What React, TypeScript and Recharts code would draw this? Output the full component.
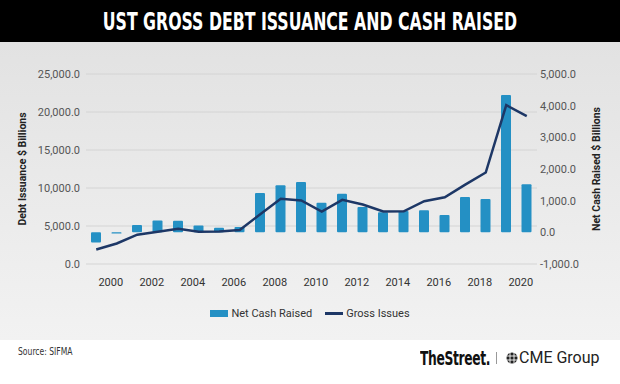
import {
  Bar,
  CartesianGrid,
  ComposedChart,
  Label,
  Legend,
  Line,
  XAxis,
  YAxis,
} from 'recharts';

const years = [
  1999, 2000, 2001, 2002, 2003, 2004, 2005, 2006, 2007, 2008, 2009, 2010, 2011,
  2012, 2013, 2014, 2015, 2016, 2017, 2018, 2019, 2020,
];

// Net cash raised, $ billions (right axis)
const netCashRaised = [
  -320, -40, 235, 375, 365, 215, 145, 170, 1245, 1485, 1590, 936, 1222, 797,
  638, 670, 700, 550, 1114, 1055, 4340, 1517,
];

// Gross issues, $ billions (left axis)
const grossIssues = [
  1910, 2700, 3860, 4250, 4630, 4230, 4276, 4470, 6550, 8580, 8355, 6908, 8447,
  7829, 6908, 6930, 8268, 8790, 10450, 12040, 20900, 19450,
];

const leftTicks = [0, 5000, 10000, 15000, 20000, 25000];
const rightTicks = [-1000, 0, 1000, 2000, 3000, 4000, 5000];

const BAR_COLOR = '#2490c4';
const LINE_COLOR = '#1d3766';
const FONT = 'Roboto, "Noto Sans", sans-serif';
const NARROW = '"DejaVu Sans Condensed", "Liberation Sans", sans-serif';

const data = years.map((year, i) => ({
  year,
  net: netCashRaised[i],
  gross: grossIssues[i],
}));

const fmt = (v: number) =>
  v.toLocaleString('en-US', { minimumFractionDigits: 1, maximumFractionDigits: 1 });

function AxisTitle({ viewBox, text, dx }: { viewBox?: any; text: string; dx: number }) {
  if (!viewBox) return null;
  const cx = viewBox.x + dx;
  const cy = viewBox.y + viewBox.height / 2;
  return (
    <text
      transform={`translate(${cx},${cy}) rotate(-90)`}
      textAnchor="middle"
      dominantBaseline="central"
      fontSize={10.5}
      fontWeight={700}
      fill="#222"
      fontFamily={FONT}
    >
      {text}
    </text>
  );
}

function LegendContent({ payload }: { payload?: any[] }) {
  // bars first, then the line, as in the original legend
  const items = [...(payload ?? [])].sort(
    (a, b) => (a.type === 'line' ? 1 : 0) - (b.type === 'line' ? 1 : 0),
  );
  return (
    <div
      style={{
        display: 'flex',
        justifyContent: 'center',
        alignItems: 'center',
        gap: 13,
        height: 20,
        fontSize: 11,
        color: '#333',
        fontFamily: FONT,
      }}
    >
      {items.map((entry) => (
        <span key={entry.value} style={{ display: 'flex', alignItems: 'center' }}>
          <span
            style={{
              display: 'inline-block',
              width: 18,
              height: entry.type === 'line' ? 3 : 7,
              background: entry.color,
              marginRight: 3,
            }}
          />
          {entry.value}
        </span>
      ))}
    </div>
  );
}

export default function App() {
  return (
    <div
      style={{
        position: 'absolute',
        left: 0,
        top: 0,
        width: 620,
        height: 384,
        background: '#fff',
        overflow: 'hidden',
      }}
    >
      <div
        style={{
          height: 42,
          background: '#000',
          color: '#fff',
          display: 'flex',
          alignItems: 'center',
          justifyContent: 'center',
          fontFamily: NARROW,
          fontWeight: 700,
          fontSize: 25,
          whiteSpace: 'nowrap',
        }}
      >
        <span style={{ display: 'inline-block', transform: 'scaleX(0.7)' }}>
          UST GROSS DEBT ISSUANCE AND CASH RAISED
        </span>
      </div>

      <div style={{ height: 298, background: 'linear-gradient(#e2e2e2, #f2f2f2)' }}>
        <ComposedChart
          width={620}
          height={298}
          data={data}
          margin={{ top: 32, right: 0, bottom: 17, left: 0 }}
          barSize={10}
        >
          <CartesianGrid yAxisId="left" vertical={false} stroke="#d4d4d4" />
          <XAxis
            dataKey="year"
            interval={0}
            height={39}
            axisLine={false}
            tickLine={false}
            tickSize={0}
            tickMargin={14}
            tick={{ fontSize: 11, fill: '#333', fontFamily: FONT, dx: -6 }}
            tickFormatter={(y: number) => (y % 2 === 0 ? String(y) : '')}
          />
          <YAxis
            yAxisId="left"
            orientation="left"
            width={86}
            domain={[0, 25000]}
            ticks={leftTicks}
            axisLine={false}
            tickLine={false}
            tickSize={0}
            tickMargin={6}
            tickFormatter={fmt}
            tick={{ fontSize: 11, fill: '#555', fontFamily: FONT }}
          >
            <Label content={(p: any) => <AxisTitle {...p} text="Debt Issuance $ Billions" dx={22} />} />
          </YAxis>
          <YAxis
            yAxisId="right"
            orientation="right"
            width={83}
            domain={[-1000, 5000]}
            ticks={rightTicks}
            axisLine={false}
            tickLine={false}
            tickSize={0}
            tickMargin={3}
            tickFormatter={fmt}
            tick={{ fontSize: 11, fill: '#555', fontFamily: FONT, textAnchor: 'start' }}
          >
            <Label content={(p: any) => <AxisTitle {...p} text="Net Cash Raised $ Billions" dx={59} />} />
          </YAxis>
          <Legend verticalAlign="bottom" content={<LegendContent />} />
          <Bar
            yAxisId="right"
            dataKey="net"
            name="Net Cash Raised"
            fill={BAR_COLOR}
            radius={1}
            isAnimationActive={false}
          />
          <Line
            yAxisId="left"
            dataKey="gross"
            name="Gross Issues"
            type="linear"
            stroke={LINE_COLOR}
            strokeWidth={2.5}
            dot={false}
            activeDot={false}
            legendType="line"
            isAnimationActive={false}
          />
        </ComposedChart>
      </div>

      <div style={{ position: 'relative', height: 44, background: '#fff', whiteSpace: 'nowrap' }}>
        <div
          style={{
            position: 'absolute',
            left: 18,
            top: 6,
            fontFamily: NARROW,
            fontSize: 10,
            color: '#333',
            transform: 'scaleX(0.85)',
            transformOrigin: 'left',
          }}
        >
          Source: SIFMA
        </div>
        <div
          style={{
            position: 'absolute',
            left: 420,
            top: 7,
            fontFamily: NARROW,
            fontWeight: 700,
            fontSize: 19,
            lineHeight: '22px',
            letterSpacing: -0.5,
            color: '#111',
            transform: 'scaleX(0.72)',
            transformOrigin: 'left',
          }}
        >
          TheStreet.
        </div>
        <div style={{ position: 'absolute', left: 496, top: 12, width: 1, height: 12, background: '#999' }} />
        <svg
          width={12}
          height={12}
          viewBox="0 0 12 12"
          style={{ position: 'absolute', left: 506, top: 12 }}
        >
          <circle cx={6} cy={6} r={5.5} fill="#222" />
          <path d="M0.5 4H11.5M0.5 8H11.5M4 0.5V11.5M8 0.5V11.5" stroke="#fff" strokeWidth={0.9} />
        </svg>
        <div
          style={{
            position: 'absolute',
            left: 519,
            top: 7,
            fontFamily: FONT,
            fontSize: 16,
            lineHeight: '22px',
            color: '#222',
          }}
        >
          CME Group
        </div>
      </div>
    </div>
  );
}
